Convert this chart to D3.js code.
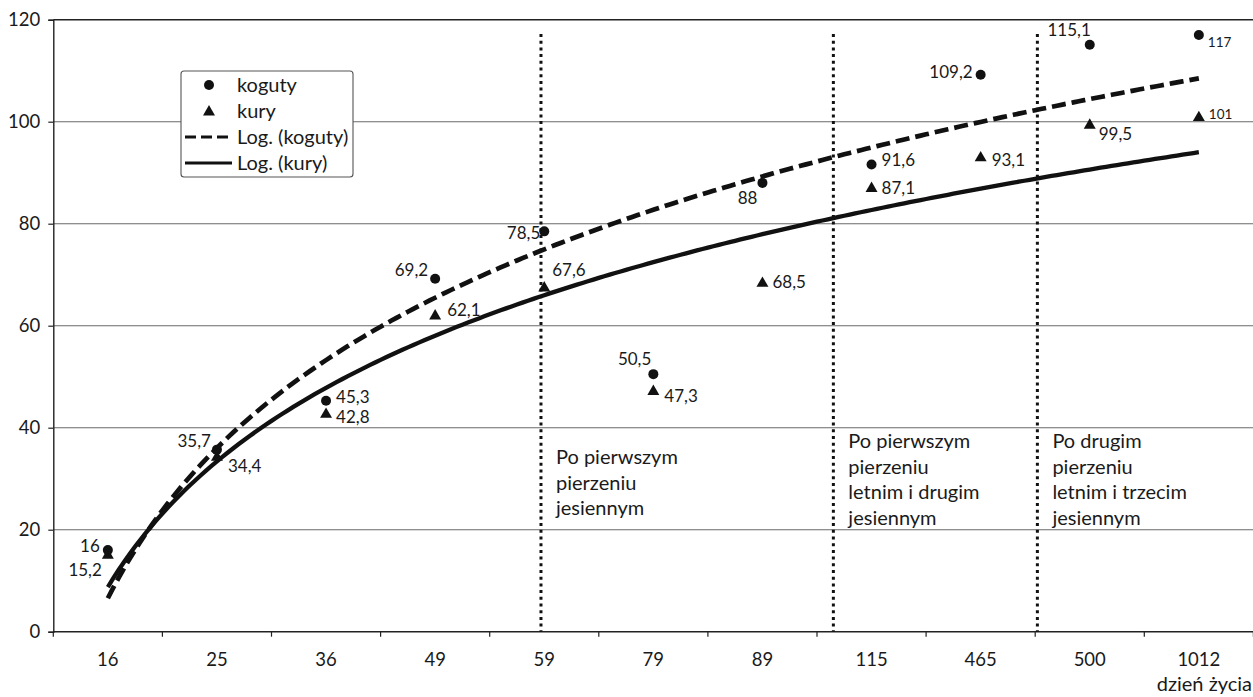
<!DOCTYPE html>
<html><head><meta charset="utf-8">
<script src="https://cdn.jsdelivr.net/npm/d3@7"></script>
<style>
html,body{margin:0;padding:0;background:#fff;}
svg{display:block;font-family:Lato, "Open Sans", sans-serif;}
</style></head>
<body>
<script>
// ---- data ----
const categories = ["16","25","36","49","59","79","89","115","465","500","1012"];
const koguty = [16, 35.7, 45.3, 69.2, 78.5, 50.5, 88, 91.6, 109.2, 115.1, 117];
const kury   = [15.2, 34.4, 42.8, 62.1, 67.6, 47.3, 68.5, 87.1, 93.1, 99.5, 101];
const kogutyLabels = ["16","35,7","45,3","69,2","78,5","50,5","88","91,6","109,2","115,1","117"];
const kuryLabels   = ["15,2","34,4","42,8","62,1","67,6","47,3","68,5","87,1","93,1","99,5","101"];
const yTicks = [0,20,40,60,80,100,120];
const seriesNames = ["koguty","kury","Log. (koguty)","Log. (kury)"];
const xTitle = "dzień życia";
// period separators, in category-band units from the left of the axis
const periodBreaks = [4.47, 7.15, 9.02];
const periodTexts = [
  ["Po pierwszym","pierzeniu","jesiennym"],
  ["Po pierwszym","pierzeniu","letnim i drugim","jesiennym"],
  ["Po drugim","pierzeniu","letnim i trzecim","jesiennym"]
];

// ---- label placement (styling, not data) ----
const kogutyOff = [[-8,2,"end"],[-6,-3,"end"],[10,2,"start"],[-7,-3,"end"],[-4,8,"end"],[-2,-9,"end"],[-5,21,"end"],[10,1,"start"],[-8,3,"end"],[1,-9,"end"],[9,12,"start"]];
const kuryOff = [[-6,22,"end"],[11,16,"start"],[10,10,"start"],[12,1,"start"],[8,-11,"start"],[11,12,"start"],[10,6,"start"],[10,7,"start"],[11,9,"start"],[9,16,"start"],[10,2,"start"]];
const smallLabelIdx = 10;

const W = 1253, H = 697;
const x0 = 53.3, x1 = 1253.4, yTop = 19.7, yBot = 631.7;

const svg = d3.select("body").append("svg").attr("width", W).attr("height", H);

const x = d3.scaleBand().domain(categories).range([x0, x1]).padding(0);
const bw = x.bandwidth();
const y = d3.scaleLinear().domain([0,120]).range([yBot, yTop]);
const xc = c => x(c) + bw/2;
// continuous index (1-based) -> pixel
const xi = d3.scaleLinear().domain([0.5, categories.length + 0.5]).range([x0, x1]);

const textCol = "#1a1a1a";

// gridlines
svg.append("g").selectAll("line").data(yTicks.filter(v => v > 0)).join("line")
  .attr("x1", x0).attr("x2", x1).attr("y1", d => y(d)).attr("y2", d => y(d))
  .attr("stroke", d => d === 120 ? "#222" : "#6a6a6a").attr("stroke-width", d => d === 120 ? 1.4 : 1.1);

// y axis
const yAxis = d3.axisLeft(y).tickValues(yTicks).tickSize(5).tickPadding(8);
const gy = svg.append("g").attr("transform", `translate(${x0},0)`).call(yAxis);
gy.select(".domain").attr("stroke", "#222").attr("stroke-width", 1.4);
gy.selectAll(".tick line").attr("stroke", "#222").attr("stroke-width", 1.2);
gy.selectAll(".tick text").attr("font-size", 18.5).attr("fill", textCol).attr("font-family", "Lato");

// x axis: ticks at category boundaries
const gx = svg.append("g").attr("transform", `translate(0,${yBot})`);
gx.append("line").attr("x1", x0).attr("x2", x1).attr("stroke", "#222").attr("stroke-width", 1.4);
const bounds = d3.range(0, categories.length + 1).map(i => x0 + i * bw);
gx.selectAll("line.tk").data(bounds).join("line").attr("class","tk")
  .attr("x1", d => d).attr("x2", d => d).attr("y1", 0).attr("y2", 5)
  .attr("stroke", "#222").attr("stroke-width", 1.2);
gx.selectAll("text").data(categories).join("text")
  .attr("x", d => xc(d)).attr("y", 34).attr("text-anchor","middle")
  .attr("font-size", 18.5).attr("fill", textCol).text(d => d);
svg.append("text").attr("x", 1252).attr("y", 691).attr("text-anchor","end")
  .attr("font-size", 20).attr("fill", textCol).text(xTitle);

// period separators (dotted)
svg.append("g").selectAll("line").data(periodBreaks).join("line")
  .attr("x1", d => x0 + d*bw).attr("x2", d => x0 + d*bw)
  .attr("y1", y(117.2)).attr("y2", yBot)
  .attr("stroke", "#111").attr("stroke-width", 3).attr("stroke-dasharray", "3,3.7");

// period texts
periodTexts.forEach((lines, k) => {
  const t = svg.append("text").attr("font-size", 20).attr("fill", textCol);
  lines.forEach((ln, j) => {
    t.append("tspan").attr("x", x0 + periodBreaks[k]*bw + 15).attr("y", k === 0 ? 464 + j*25.5 : 448 + j*25.5).text(ln);
  });
});

// logarithmic trend lines (least squares on ln(index))
function logFit(vals) {
  const xs = vals.map((_, i) => Math.log(i + 1));
  const mx = d3.mean(xs), my = d3.mean(vals);
  let sxy = 0, sxx = 0;
  xs.forEach((v, i) => { sxy += (v - mx) * (vals[i] - my); sxx += (v - mx) ** 2; });
  const a = sxy / sxx, b = my - a * mx;
  return t => a * Math.log(t) + b;
}
const steps = d3.range(1, categories.length + 0.001, 0.05);
const fK = logFit(koguty), fH = logFit(kury);
svg.append("path").attr("d", d3.line().x(t => xi(t)).y(t => y(fK(t)))(steps))
  .attr("fill","none").attr("stroke","#111").attr("stroke-width",4.7).attr("stroke-dasharray","14,6");
svg.append("path").attr("d", d3.line().x(t => xi(t)).y(t => y(fH(t)))(steps))
  .attr("fill","none").attr("stroke","#111").attr("stroke-width",4.3);

// markers
const circ = d3.symbol().type(d3.symbolCircle).size(Math.PI*5*5);
const tri = d3.symbol().type(d3.symbolTriangle).size(62);
svg.append("g").selectAll("path").data(kury).join("path")
  .attr("d", tri).attr("fill","#111")
  .attr("transform", (d,i) => `translate(${xc(categories[i])},${y(d)+1})`);
svg.append("g").selectAll("path").data(koguty).join("path")
  .attr("d", circ).attr("fill","#111")
  .attr("transform", (d,i) => `translate(${xc(categories[i])},${y(d)})`);

// data labels
function labels(vals, txt, off) {
  svg.append("g").selectAll("text").data(vals).join("text")
    .attr("x", (d,i) => xc(categories[i]) + off[i][0])
    .attr("y", (d,i) => y(d) + off[i][1])
    .attr("text-anchor", (d,i) => off[i][2])
    .attr("font-size", (d,i) => i === smallLabelIdx ? 13.5 : 17)
    .attr("fill", textCol)
    .text((d,i) => txt[i]);
}
labels(koguty, kogutyLabels, kogutyOff);
labels(kury, kuryLabels, kuryOff);

// legend
const lg = svg.append("g");
lg.append("rect").attr("x",181).attr("y",71).attr("width",172).attr("height",106).attr("rx",3)
  .attr("fill","#fff").attr("stroke","#555").attr("stroke-width",1.1);
const rowsY = [85, 111, 137, 163];
lg.append("path").attr("d", circ).attr("fill","#111").attr("transform",`translate(209,${rowsY[0]})`);
lg.append("path").attr("d", tri).attr("fill","#111").attr("transform",`translate(209,${rowsY[1]+1})`);
lg.append("line").attr("x1",185).attr("x2",231).attr("y1",rowsY[2]).attr("y2",rowsY[2])
  .attr("stroke","#111").attr("stroke-width",3).attr("stroke-dasharray","11,5");
lg.append("line").attr("x1",185).attr("x2",232).attr("y1",rowsY[3]).attr("y2",rowsY[3])
  .attr("stroke","#111").attr("stroke-width",3);
lg.selectAll("text").data(seriesNames).join("text")
  .attr("x", 237).attr("y", (d,i) => rowsY[i]).attr("dy","0.35em")
  .attr("font-size", 20).attr("fill", textCol).text(d => d);
</script>
</body></html>
